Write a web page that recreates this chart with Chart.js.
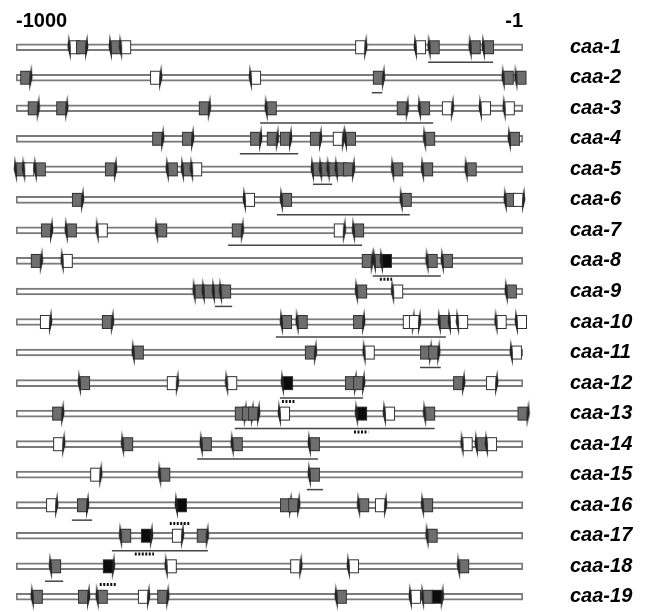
<!DOCTYPE html>
<html>
<head>
<meta charset="utf-8">
<script src="https://cdn.jsdelivr.net/npm/chart.js@4.4.1/dist/chart.umd.min.js"></script>
<style>
  html, body { margin: 0; padding: 0; background: #fff; }
</style>
</head>
<body>
<canvas id="promoterChart" width="646" height="612"></canvas>
<script>
// gene names, top to bottom
const genes = ["caa-1", "caa-2", "caa-3", "caa-4", "caa-5", "caa-6", "caa-7", "caa-8", "caa-9", "caa-10",
               "caa-11", "caa-12", "caa-13", "caa-14", "caa-15", "caa-16", "caa-17", "caa-18", "caa-19"];
const endTicks = [-1000, -1];

// sites: [position, kind]  kind = g(grey) / w(white) / b(black) + strand L / R
const caa1 = [[-884, "wL"], [-872, "gR"], [-803, "gL"], [-783, "wL"], [-322, "wR"], [-202, "wL"], [-175, "gL"], [-94, "gL"], [-68, "gL"]];
const caa2 = [[-982, "gR"], [-726, "wR"], [-527, "wL"], [-287, "gR"], [-29, "gL"], [-4, "gL"]];
const caa3 = [[-967, "gR"], [-911, "gR"], [-630, "gR"], [-496, "gL"], [-240, "gR"], [-194, "gL"], [-151, "wR"], [-74, "wL"], [-27, "wL"]];
const caa4 = [[-722, "gR"], [-663, "gR"], [-529, "gR"], [-496, "gR"], [-470, "gR"], [-411, "gR"], [-366, "wR"], [-340, "gL"], [-184, "gL"], [-17, "gL"]];
const caa5 = [[-990, "gL"], [-974, "wL"], [-951, "gL"], [-815, "gR"], [-691, "gL"], [-661, "gL"], [-643, "wL"], [-405, "gL"], [-389, "gL"],
              [-374, "gL"], [-358, "gL"], [-346, "gR"], [-247, "gL"], [-188, "gL"], [-102, "gL"]];
const caa6 = [[-880, "gR"], [-539, "wL"], [-466, "gL"], [-230, "gL"], [-25, "gL"], [-11, "wR"]];
const caa7 = [[-941, "gR"], [-890, "gL"], [-829, "wL"], [-712, "gL"], [-565, "gR"], [-364, "wR"], [-324, "gL"]];
const caa8 = [[-961, "gR"], [-898, "wL"], [-309, "gR"], [-283, "gL"], [-269, "bL"], [-179, "gL"], [-149, "gL"]];
const caa9 = [[-638, "gL"], [-620, "gL"], [-600, "gL"], [-586, "gL"], [-318, "gL"], [-247, "wL"], [-23, "gL"]];
const caa10 = [[-943, "wR"], [-821, "gR"], [-466, "gL"], [-435, "gL"], [-326, "gR"], [-228, "wR"], [-216, "wR"], [-155, "gL"],
               [-135, "wL"], [-119, "wL"], [-43, "wL"], [-3, "wL"]];
const caa11 = [[-758, "gL"], [-421, "gR"], [-303, "wL"], [-194, "gR"], [-178, "gR"], [-13, "wL"]];
const caa12 = [[-864, "gL"], [-693, "wR"], [-574, "wL"], [-464, "bL"], [-342, "gR"], [-326, "gR"], [-129, "gR"], [-64, "wR"]];
const caa13 = [[-919, "gR"], [-559, "gR"], [-545, "gR"], [-533, "gR"], [-470, "wL"], [-318, "bL"], [-263, "wL"], [-184, "gL"], [-2, "gR"]];
const caa14 = [[-917, "wR"], [-779, "gL"], [-624, "gL"], [-563, "gL"], [-411, "gL"], [-110, "wL"], [-82, "gL"], [-62, "wL"]];
const caa15 = [[-844, "wR"], [-706, "gL"], [-411, "gL"]];
const caa16 = [[-931, "wR"], [-870, "gR"], [-673, "bL"], [-470, "gR"], [-454, "gR"], [-314, "gL"], [-283, "wR"], [-188, "gL"]];
const caa17 = [[-783, "gL"], [-744, "bR"], [-683, "wR"], [-634, "gR"], [-179, "gL"]];
const caa18 = [[-921, "gL"], [-819, "bR"], [-693, "wL"], [-450, "wR"], [-334, "wL"], [-117, "gL"]];
const caa19 = [[-957, "gL"], [-868, "gR"], [-829, "gL"], [-750, "wR"], [-712, "gR"], [-358, "gL"], [-212, "wL"], [-188, "gL"], [-171, "bR"]];
const siteRows = [caa1, caa2, caa3, caa4, caa5, caa6, caa7, caa8, caa9, caa10,
                  caa11, caa12, caa13, caa14, caa15, caa16, caa17, caa18, caa19];

// linked site groups: [row, from, to, side]
const underlines = [
    [1, -188, -60, "below"], [2, -299, -278, "below"], [4, -519, -178, "above"], [4, -559, -444, "below"],
    [5, -415, -377, "below"], [6, -486, -224, "below"], [7, -582, -318, "below"], [8, -297, -163, "below"],
    [9, -608, -574, "below"], [10, -488, -153, "below"], [11, -204, -163, "below"], [12, -480, -316, "below"],
    [13, -569, -175, "below"], [14, -643, -405, "below"], [15, -427, -395, "below"], [16, -890, -850, "below"],
    [17, -811, -622, "below"], [18, -943, -907, "below"]
];
// dotted marks under black sites: [row, from, to]
const dotted = [[8, -283, -259], [12, -476, -450], [13, -334, -306], [16, -697, -657], [17, -766, -728], [18, -835, -801]];

// 🔹 marker icons
const fills = { g: "#6e6e6e", w: "#ffffff", b: "#0c0c0c" };
function makeIcon(fill, dir) {
    const cv = document.createElement("canvas");
    cv.width = 20;
    cv.height = 30;
    const g = cv.getContext("2d");
    if (dir === "L") { g.translate(20, 0); g.scale(-1, 1); }
    g.fillStyle = fill;
    g.strokeStyle = "#333";
    g.lineWidth = 1;
    g.fillRect(5.5, 8.5, 9.5, 13);
    g.strokeRect(5.5, 8.5, 9.5, 13);
    // strand barb
    g.fillStyle = "#222";
    g.beginPath();
    g.moveTo(16.2, 1);
    g.lineTo(17.4, 15);
    g.lineTo(14.0, 29);
    g.lineTo(14.3, 15);
    g.closePath();
    g.fill();
    return cv;
}
const icons = {};
for (const k of Object.keys(fills)) {
    icons[k + "L"] = makeIcon(fills[k], "L");
    icons[k + "R"] = makeIcon(fills[k], "R");
}

const sitePoints = [];
siteRows.forEach((row, i) => row.forEach(([pos, kind]) => sitePoints.push({ x: pos, y: i + 1, kind: kind })));

const datasets = [];

// sites
datasets.push({
    type: "scatter",
    data: sitePoints,
    pointStyle: (ctx) => icons[ctx.raw ? ctx.raw.kind : "gR"],
    pointRadius: 5,
    clip: false,
    order: 1
});

underlines.forEach(([row, from, to, side]) => {
    const y = row + (side === "above" ? -0.52 : 0.49);
    datasets.push({
        type: "line",
        data: [{ x: from, y: y }, { x: to, y: y }],
        borderColor: "#444",
        borderWidth: 1.5,
        pointRadius: 0,
        clip: false,
        order: 2
    });
});

dotted.forEach(([row, from, to]) => {
    datasets.push({
        type: "line",
        data: [{ x: from, y: row + 0.6 }, { x: to, y: row + 0.6 }],
        borderColor: "#111",
        borderWidth: 3,
        borderDash: [2, 1.5],
        pointRadius: 0,
        clip: false,
        order: 2
    });
});

// promoter bars
datasets.push({
    type: "bar",
    indexAxis: "y",
    data: genes.map((g, i) => ({ x: [-1000, -1], y: i + 1 })),
    barThickness: 7,
    backgroundColor: "#ffffff",
    borderColor: "#7a7a7a",
    borderWidth: 2,
    borderSkipped: false,
    order: 3
});

new Chart(document.getElementById("promoterChart"), {
    type: "scatter",
    data: { datasets: datasets },
    options: {
        responsive: false,
        animation: false,
        layout: { autoPadding: false, padding: { left: 16, right: 0, top: 0, bottom: 3 } },
        plugins: {
            legend: { display: false },
            tooltip: { enabled: false }
        },
        scales: {
            x: {
                type: "linear",
                position: "top",
                min: -1000,
                max: -1,
                offset: false,
                grid: { display: false, drawTicks: false, offset: false },
                border: { display: false },
                afterBuildTicks: (s) => { s.ticks = endTicks.map(v => ({ value: v })); },
                afterFit: (s) => { s.height = 35; s.paddingLeft = 0; s.paddingRight = 0; },
                ticks: {
                    align: "inner",
                    autoSkip: false,
                    maxRotation: 0,
                    padding: 2,
                    color: "#000",
                    font: { family: "Liberation Sans, Arial, sans-serif", size: 20, weight: "bold" },
                    callback: (v) => String(v)
                }
            },
            y: {
                type: "linear",
                position: "right",
                reverse: true,
                min: 0.6,
                max: 19.4,
                offset: false,
                grid: { display: false, drawTicks: false, offset: false },
                border: { display: false },
                afterBuildTicks: (s) => { s.ticks = genes.map((g, i) => ({ value: i + 1 })); },
                afterFit: (s) => { s.width = 123; s.paddingTop = 0; s.paddingBottom = 0; },
                ticks: {
                    autoSkip: false,
                    padding: 47,
                    color: "#000",
                    font: { family: "Liberation Sans, Arial, sans-serif", size: 20, weight: "bold", style: "italic" },
                    callback: (v) => genes[Math.round(v) - 1]
                }
            }
        }
    }
});
</script>
</body>
</html>
